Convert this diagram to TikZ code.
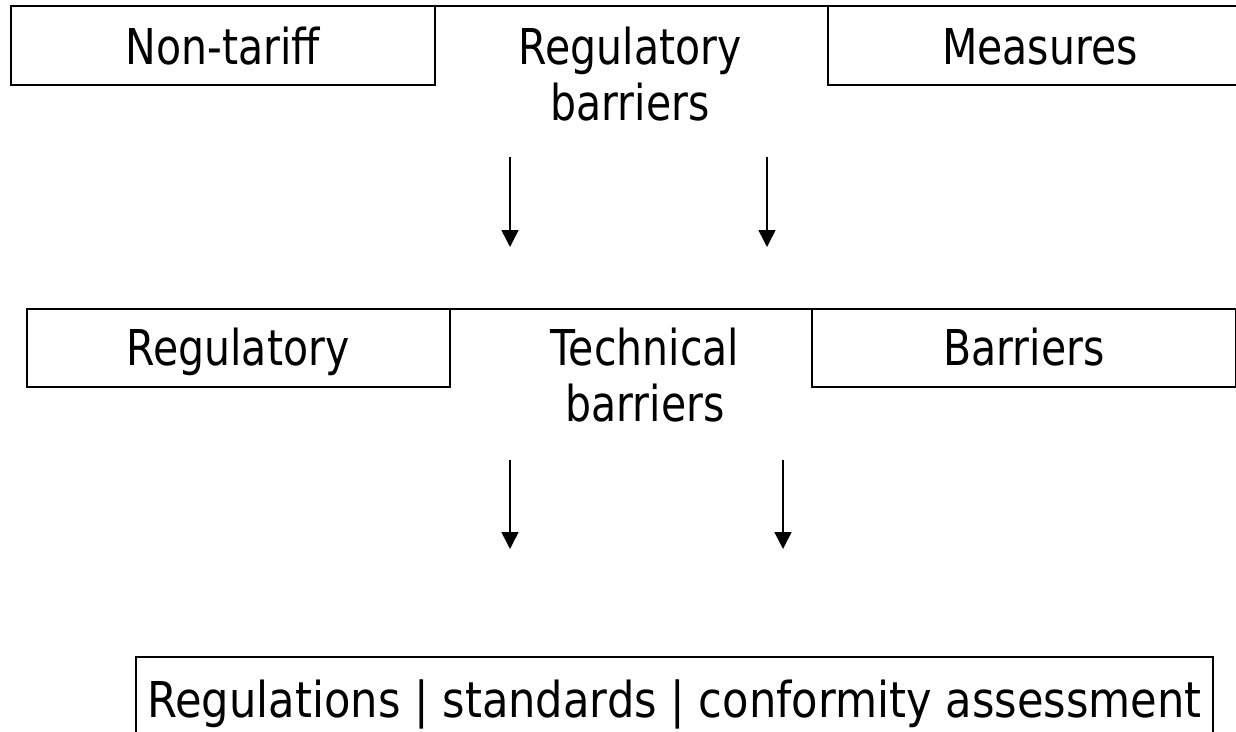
\documentclass[tikz,border=0pt]{standalone}
\usepackage{fontspec}
\setmainfont{DejaVu Sans}[FakeStretch=0.83]
\newfontfamily\widefont{DejaVu Sans}[FakeStretch=0.875]
\usetikzlibrary{arrows.meta}
\begin{document}
\begin{tikzpicture}[x=1pt,y=-1pt,
  every node/.style={inner sep=0pt, outer sep=0pt, font=\fontsize{49.4}{56}\selectfont},
  boxline/.style={draw=black, line width=1.8pt},
  lbl/.style={anchor=base, align=center},
  arr/.style={line width=1.6pt, -{Triangle[length=17pt,width=17pt]}}]
\useasboundingbox (0,0) rectangle (1236,731);
% row 1
\draw[boxline] (11,6) rectangle (435,85);
\draw[boxline] (828,6) rectangle (1260,85);
\draw[boxline] (435,6) -- (828,6);
\node[lbl] (nt) at (223,64) {Non-tariff};
\node[lbl] (rb) at (630,120) {Regulatory\\barriers};
\node[lbl] (ms) at (1040,64) {Measures};
% row 2
\draw[boxline] (27,309) rectangle (450,387);
\draw[boxline] (812,309) rectangle (1236,387);
\draw[boxline] (450,309) -- (812,309);
\node[lbl] (rg) at (238,365) {Regulatory};
\node[lbl] (tb) at (645,421) {Technical\\barriers};
\node[lbl] (br) at (1024,365) {Barriers};
% row 3
\draw[boxline] (136,657) rectangle (1213,770);
\node[lbl, font=\widefont\fontsize{49.4}{56}\selectfont] (rsc) at (674.5,717) {Regulations | standards | conformity assessment};
% arrows
\coordinate (a1s) at (510,157); \coordinate (a1e) at (510,247);
\coordinate (a2s) at (767,157); \coordinate (a2e) at (767,247);
\coordinate (a3s) at (510,460); \coordinate (a3e) at (510,549);
\coordinate (a4s) at (783,460); \coordinate (a4e) at (783,549);
\draw[arr] (a1s) -- (a1e);
\draw[arr] (a2s) -- (a2e);
\draw[arr] (a3s) -- (a3e);
\draw[arr] (a4s) -- (a4e);
\end{tikzpicture}
\end{document}
